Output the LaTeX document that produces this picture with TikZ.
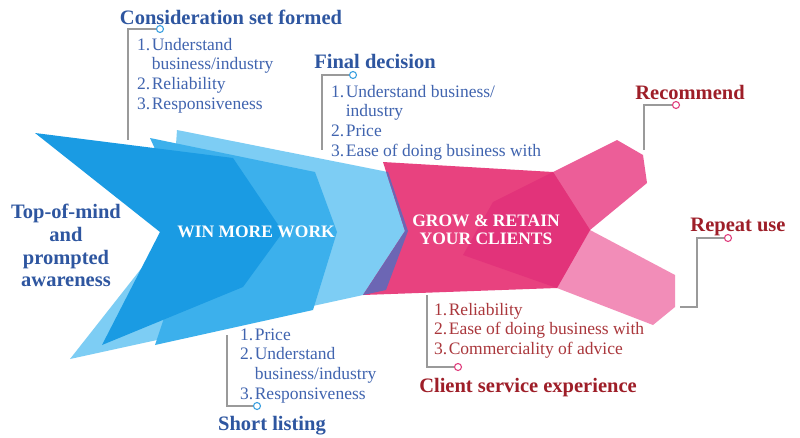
\documentclass[tikz,border=0pt]{standalone}
\usepackage{fontspec}
\setmainfont{Liberation Serif}
\definecolor{bLight}{HTML}{7DCDF4}
\definecolor{bMed}{HTML}{3CB0EC}
\definecolor{bDark}{HTML}{1A9BE3}
\definecolor{pMain}{HTML}{E8427F}
\definecolor{pDeep}{HTML}{E2337A}
\definecolor{pUp}{HTML}{EC5E98}
\definecolor{pLow}{HTML}{F28DB8}
\definecolor{pPurple}{HTML}{6C66B4}
\definecolor{hdBlue}{HTML}{2E56A0}
\definecolor{lsBlue}{HTML}{4064AF}
\definecolor{hdRed}{HTML}{9E1E28}
\definecolor{lsRed}{HTML}{AA373C}
\definecolor{leadGray}{HTML}{9A9A9A}
\definecolor{dotBlue}{HTML}{3BA0E0}
\definecolor{dotPink}{HTML}{E0407F}
\newcommand\mylist[1]{\begin{tabular}[t]{@{}l@{\hspace{1.5pt}}l@{}}#1\end{tabular}}
\begin{document}
\begin{tikzpicture}[x=1pt,y=-1pt,
  hd/.style={font=\fontsize{20.5}{22}\selectfont\bfseries, inner sep=0pt, anchor=base},
  inner/.style={font=\fontsize{17.5}{18}\selectfont\bfseries, text=white, inner sep=0pt, anchor=base},
  lst/.style={font=\fontsize{17.5}{19.8}\selectfont, inner sep=0pt, anchor=base west},
  lead/.style={draw=leadGray, line width=1.1pt},
  bdot/.style={circle, draw=dotBlue, fill=white, line width=1.1pt, minimum size=7pt, inner sep=0pt},
  pdot/.style={circle, draw=dotPink, fill=white, line width=1.1pt, minimum size=7pt, inner sep=0pt}]
\useasboundingbox (0,0) rectangle (800,437);
\fill[white] (0,0) rectangle (800,437);

% blue chevrons
\fill[bLight] (177,130) -- (388,172) -- (408,231) -- (386,290) -- (70,359) -- (170,232) -- cycle;
\fill[bMed] (150,138) -- (315,172) -- (337,232) -- (313,310) -- (155,345) -- (193,232) -- cycle;
\fill[bDark] (35,133) -- (233,158) -- (283,232) -- (243,287) -- (102,345) -- (160,232) -- cycle;

% pink shapes
\fill[pUp] (493,202) -- (617,140) -- (643,155) -- (647,183) -- (590,230) -- cycle;
\fill[pLow] (557,288) -- (590,230) -- (675,275) -- (675,307) -- (653,325) -- cycle;
\fill[pMain] (383,162) -- (553,172) -- (590,230) -- (557,288) -- (363,295) -- (405,231) -- cycle;
\fill[pDeep] (493,202) -- (553,172) -- (590,230) -- (557,288) -- (463,255) -- cycle;
\begin{scope}
  \clip (177,130) -- (388,172) -- (408,231) -- (386,290) -- (70,359) -- (170,232) -- cycle;
  \fill[pPurple] (383,162) -- (553,172) -- (590,230) -- (557,288) -- (363,295) -- (405,231) -- cycle;
\end{scope}

% inner labels
\node[inner] (win) at (256,237) {WIN MORE WORK};
\node[inner] (grow1) at (486,226) {GROW \& RETAIN};
\node[inner] (grow2) at (486,244) {YOUR CLIENTS};

% left label
\node[hd, text=hdBlue, align=center, anchor=north, font=\fontsize{20.5}{22.7}\selectfont\bfseries] (aware) at (66,204)
  {Top-of-mind\\and\\prompted\\awareness};

% Consideration set formed
\node[hd, text=hdBlue] (h1) at (231,24) {Consideration set formed};
\node[bdot] (c1) at (160,29) {};
\coordinate (e1) at (128,140);
\draw[lead] (c1.west) -| (e1);
\node[lst, text=lsBlue] (l1) at (137,50) {\mylist{1.&Understand\\&business/industry\\2.&Reliability\\3.&Responsiveness}};

% Final decision
\node[hd, text=hdBlue] (h2) at (375,68) {Final decision};
\node[bdot] (c2) at (353,75) {};
\coordinate (e2) at (322,150);
\draw[lead] (c2.west) -| (e2);
\node[lst, text=lsBlue] (l2) at (331,97) {\mylist{1.&Understand business/\\&industry\\2.&Price\\3.&Ease of doing business with}};

% Short listing
\node[hd, text=hdBlue] (h6) at (272,430) {Short listing};
\node[bdot] (c6) at (257,406) {};
\coordinate (e6) at (227,335);
\draw[lead] (c6.west) -| (e6);
\node[lst, text=lsBlue] (l6) at (240,340) {\mylist{1.&Price\\2.&Understand\\&business/industry\\3.&Responsiveness}};

% Recommend
\node[hd, text=hdRed] (h3) at (690,99) {Recommend};
\node[pdot] (c3) at (676,105) {};
\coordinate (e3) at (644,150);
\draw[lead] (c3.west) -| (e3);

% Repeat use
\node[hd, text=hdRed] (h4) at (738,231) {Repeat use};
\node[pdot] (c4) at (728,238) {};
\coordinate (k4) at (697,307);
\coordinate (e4) at (680,307);
\draw[lead] (c4.west) -| (k4) -- (e4);

% Client service experience
\node[hd, text=hdRed] (h5) at (528,392) {Client service experience};
\node[pdot] (c5) at (458,367) {};
\coordinate (e5) at (427,295);
\draw[lead] (c5.west) -| (e5);
\node[lst, text=lsRed] (l5) at (434,315) {\mylist{1.&Reliability\\2.&Ease of doing business with\\3.&Commerciality of advice}};
\end{tikzpicture}
\end{document}
